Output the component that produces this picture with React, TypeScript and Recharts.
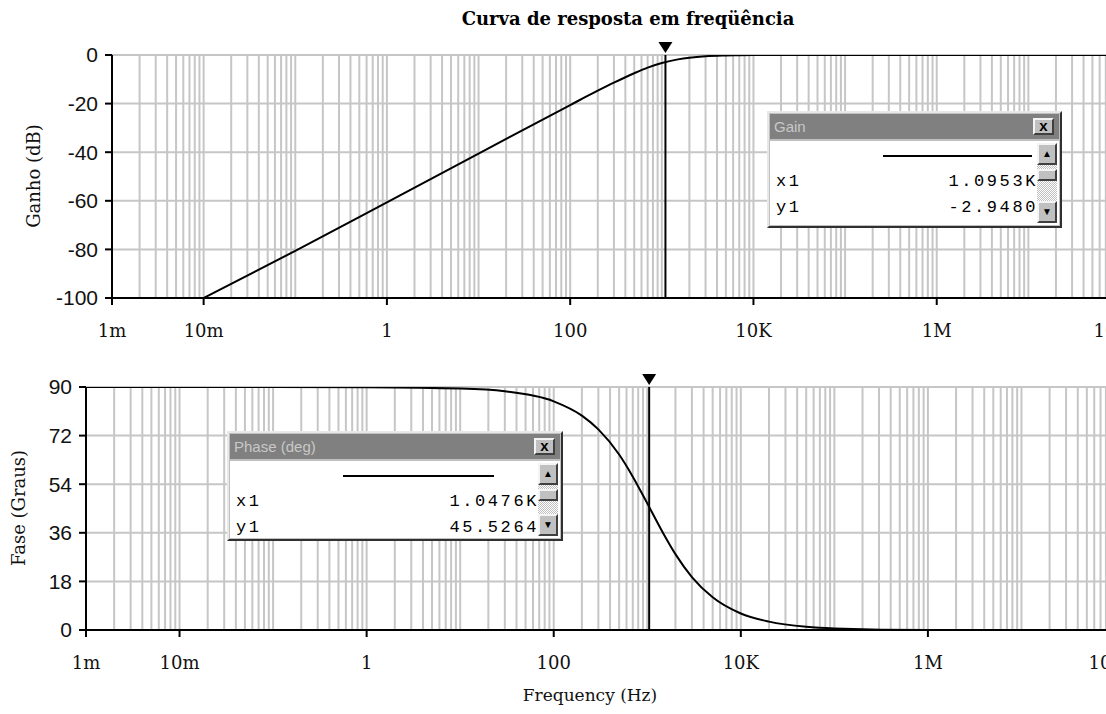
import React from 'react'
import {
  LineChart, Line, XAxis, YAxis, CartesianGrid, ReferenceLine, ReferenceDot,
} from 'recharts'

// gain curve (dB)
const gainFreq = [0.01, 0.1, 1, 10, 100, 200, 300, 500, 700, 1000, 1500, 2000, 3000, 5000, 7000, 10000, 20000, 50000, 1e5, 1e6, 1e7, 1e8]
const gainDb = [-100, -80.6, -60.6, -40.6, -20.6, -14.7, -11.4, -7.5, -5.2, -3.3, -1.8, -1.1, -0.5, -0.2, -0.1, -0.05, 0, 0, 0, 0, 0, 0]

// phase curve (degrees)
const phaseFreq = [0.001, 0.01, 0.1, 1, 10, 30, 100, 200, 300, 500, 700, 1000, 1500, 2000, 3000, 5000, 10000, 20000, 50000, 1e5, 1e6, 1e8]
const phaseDeg = [90, 90, 90, 89.9, 89.4, 88.4, 84.7, 79.4, 74.3, 65, 56.8, 46.9, 35.5, 28.1, 19.6, 12.1, 6.1, 3.1, 1.2, 0.6, 0, 0]

const xTicks = [1e-3, 1e-2, 1, 1e2, 1e4, 1e6, 1e8]
const xTickLabels = ['1m', '10m', '1', '100', '10K', '1M', '100M']
const gainTicks = [-100, -80, -60, -40, -20, 0]
const phaseTicks = [0, 18, 36, 54, 72, 90]

const gainCursor = 1095.3
const phaseCursor = 1047.6

// log grid: 1..9 x every decade (labels only on xTicks)
const gridTicks = [-3, -2, -1, 0, 1, 2, 3, 4, 5, 6, 7]
  .flatMap(k => [1, 2, 3, 4, 5, 6, 7, 8, 9].map(m => m * Math.pow(10, k)))
  .concat([1e8])

const gainData = gainFreq.map((f, i) => ({ f, v: gainDb[i] }))
const phaseData = phaseFreq.map((f, i) => ({ f, v: phaseDeg[i] }))

const fmtX = (v: number) => {
  const i = xTicks.findIndex(t => Math.abs(Math.log10(t) - Math.log10(v)) < 1e-6)
  return i >= 0 ? xTickLabels[i] : ''
}

const serif = '"DejaVu Serif", serif'
const sans = '"Liberation Sans", Arial, sans-serif'
const mono = '"Liberation Mono", "Courier New", monospace'
const gridColor = '#c6c6c6'

const XTick = ({ x, y, payload }: any) => {
  const label = fmtX(payload.value)
  if (!label) return null
  return (
    <g>
      <line x1={x} x2={x} y1={y - 26} y2={y - 19} stroke="#000" strokeWidth={2} />
      <text x={x} y={y} dy="0.71em" textAnchor="middle" fontFamily={serif} fontSize={18} fill="#111">
        {label}
      </text>
    </g>
  )
}

const Marker = (p: any) => (
  <polygon
    points={`${p.cx - 7},${p.cy - 13} ${p.cx + 7},${p.cy - 13} ${p.cx},${p.cy - 2}`}
    fill="#000"
  />
)

function Panel({ data, yTicks, yDomain, cursor, markerY, left, top, bottom, width }: any) {
  return (
    <LineChart width={width} height={345} data={data} margin={{ top, right: 15, left, bottom }}>
      <CartesianGrid stroke={gridColor} strokeWidth={2} />
      <XAxis dataKey="f" type="number" scale="log" domain={[1e-3, 1e8]}
        ticks={gridTicks} interval={0} allowDataOverflow height={40}
        axisLine={{ stroke: '#000', strokeWidth: 2 }} tickLine={false}
        tickSize={7} tickMargin={19} tick={<XTick />} />
      <YAxis type="number" domain={yDomain} ticks={yTicks} allowDataOverflow width={60}
        axisLine={{ stroke: '#000', strokeWidth: 2 }} tickLine={{ stroke: '#000', strokeWidth: 2 }}
        tickSize={7} tickMargin={7}
        tick={{ fontFamily: sans, fontSize: 21, fill: '#111' }} />
      <ReferenceLine x={cursor} stroke="#000" strokeWidth={2} />
      <Line dataKey="v" type="monotone" stroke="#000" strokeWidth={2}
        dot={false} isAnimationActive={false} />
      <ReferenceDot x={cursor} y={markerY} r={0} ifOverflow="visible" shape={Marker} />
    </LineChart>
  )
}

function InfoWindow({ left, top, width, height, title, xv, yv, lineFrom, lineTo }: any) {
  const btn: React.CSSProperties = {
    position: 'absolute', background: '#c0c0c0', boxSizing: 'border-box',
    borderTop: '2px solid #f4f4f4', borderLeft: '2px solid #f4f4f4',
    borderRight: '2px solid #404040', borderBottom: '2px solid #404040',
  }
  const row: React.CSSProperties = {
    position: 'absolute', left: 6, fontFamily: mono, fontSize: 17, letterSpacing: 2.6, color: '#000',
  }
  return (
    <div style={{
      position: 'absolute', left, top, width, height, background: '#c0c0c0', boxSizing: 'border-box',
      borderTop: '2px solid #e8e8e8', borderLeft: '2px solid #e8e8e8',
      borderRight: '2px solid #303030', borderBottom: '2px solid #303030',
    }}>
      <div style={{
        position: 'absolute', left: 1, top: 1, right: 1, height: 25, background: '#808080',
        color: '#c8c8c8', fontFamily: sans, fontSize: 15, lineHeight: '25px', paddingLeft: 4,
      }}>{title}</div>
      <div style={{ ...btn, right: 6, top: 5, width: 21, height: 17, fontFamily: sans, fontSize: 15,
        fontWeight: 'bold', lineHeight: '12px', textAlign: 'center', color: '#000' }}>x</div>
      <div style={{ position: 'absolute', left: 1, top: 28, right: 1, bottom: 1, background: '#fff' }}>
        <div style={{ position: 'absolute', left: lineFrom, width: lineTo - lineFrom, top: 14, height: 2, background: '#000' }} />
        <div style={{ ...row, top: 31 }}>x1</div>
        <div style={{ ...row, top: 57 }}>y1</div>
        <div style={{ ...row, left: 'auto', right: 21, top: 31 }}>{xv}</div>
        <div style={{ ...row, left: 'auto', right: 21, top: 57 }}>{yv}</div>
        <div style={{ position: 'absolute', right: 2, top: 2, bottom: 2, width: 20,
          backgroundImage: 'repeating-conic-gradient(#c0c0c0 0 25%, #fff 0 50%)', backgroundSize: '2px 2px' }}>
          <div style={{ ...btn, left: 0, top: 0, width: 20, height: 22, textAlign: 'center', fontSize: 10, lineHeight: '18px' }}>▲</div>
          <div style={{ ...btn, left: 0, top: 26, width: 20, height: 12 }} />
          <div style={{ ...btn, left: 0, bottom: 0, width: 20, height: 22, textAlign: 'center', fontSize: 10, lineHeight: '18px' }}>▼</div>
        </div>
      </div>
    </div>
  )
}

export default function App() {
  return (
    <div style={{ position: 'fixed', left: 0, top: 0, width: 1106, height: 714, overflow: 'hidden', background: '#fff' }}>
      <div style={{ position: 'absolute', left: 0, top: 0 }}>
        <Panel data={gainData} yTicks={gainTicks} yDomain={[-100, 0]} cursor={gainCursor}
          markerY={0} left={52} top={55} bottom={7} width={1135} />
      </div>
      <div style={{ position: 'absolute', left: 0, top: 330 }}>
        <Panel data={phaseData} yTicks={phaseTicks} yDomain={[0, 90]} cursor={phaseCursor}
          markerY={90} left={26} top={57} bottom={5} width={1130} />
      </div>

      <div style={{ position: 'absolute', left: 628, top: 18, transform: 'translate(-50%, -50%)', whiteSpace: 'nowrap',
        fontFamily: serif, fontWeight: 'bold', fontSize: 18, color: '#000' }}>
        Curva de resposta em freqüência
      </div>
      <div style={{ position: 'absolute', left: 33, top: 176, transform: 'translate(-50%, -50%) rotate(-90deg)',
        whiteSpace: 'nowrap', fontFamily: serif, fontSize: 18, color: '#111' }}>
        Ganho (dB)
      </div>
      <div style={{ position: 'absolute', left: 18, top: 508, transform: 'translate(-50%, -50%) rotate(-90deg)',
        whiteSpace: 'nowrap', fontFamily: serif, fontSize: 18, color: '#111' }}>
        Fase (Graus)
      </div>
      <div style={{ position: 'absolute', left: 590, top: 695, transform: 'translate(-50%, -50%)',
        whiteSpace: 'nowrap', fontFamily: serif, fontSize: 17, color: '#111' }}>
        Frequency (Hz)
      </div>

      <InfoWindow left={767} top={111} width={295} height={117} title="Gain"
        xv="1.0953K" yv="-2.9480" lineFrom={113} lineTo={262} />
      <InfoWindow left={227} top={431} width={336} height={110} title="Phase (deg)"
        xv="1.0476K" yv="45.5264" lineFrom={113} lineTo={264} />
    </div>
  )
}
